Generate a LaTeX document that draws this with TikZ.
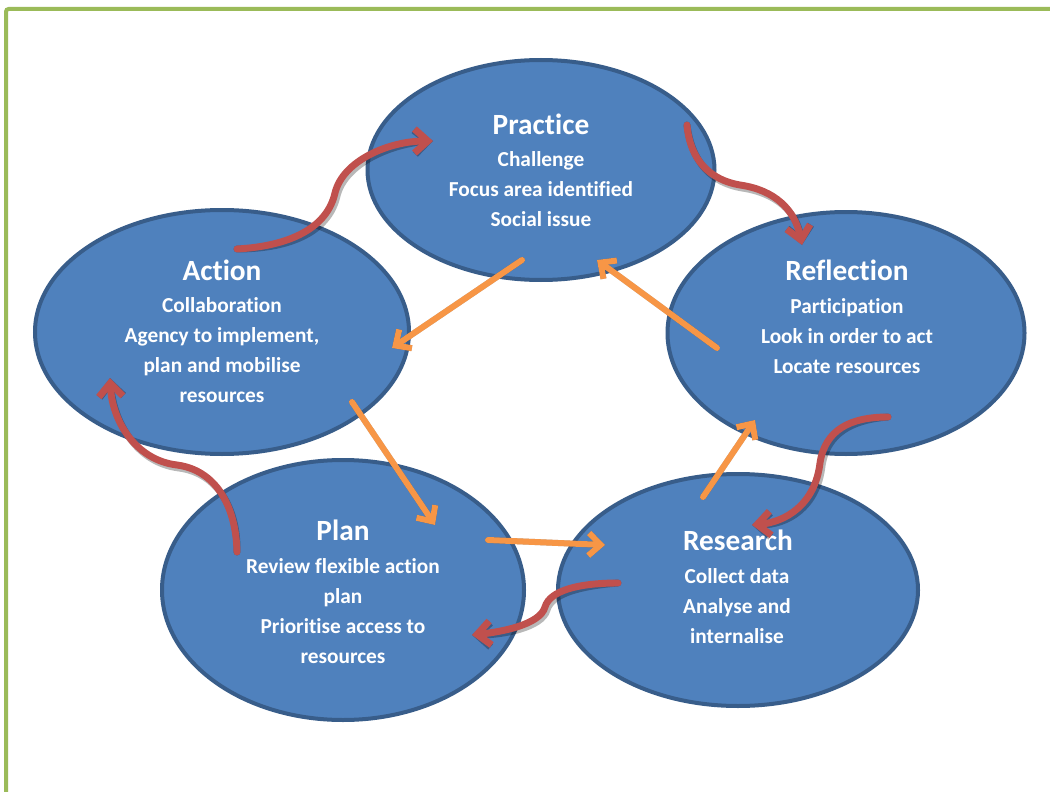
\documentclass[tikz,border=0pt]{standalone}
\usepackage{fontspec}
\setmainfont{Carlito}[Ligatures={NoCommon,NoContextual,NoRequired}]
\usetikzlibrary{shapes.geometric,arrows.meta}
\definecolor{blobfill}{HTML}{4F81BD}
\definecolor{blobline}{HTML}{385D8A}
\definecolor{redarr}{HTML}{C0504D}
\definecolor{orgarr}{HTML}{F79646}
\definecolor{framegreen}{HTML}{9BBB59}
\tikzset{
  blob/.style={ellipse, draw=blobline, fill=blobfill, line width=3pt, inner sep=0pt},
  title/.style={text=white, font=\fontsize{22}{26}\selectfont\bfseries},
  body/.style={text=white, font=\fontsize{16}{22.5}\selectfont\bfseries, align=center},
  redline/.style={draw=redarr, line width=5.2pt, line cap=round, -{Straight Barb[length=10pt,width=18pt]}},
  redshadow/.style={redline, draw=black, opacity=0.28, shift={(2,3)}},
  orgline/.style={draw=orgarr, line width=4.5pt, line cap=round, -{Straight Barb[length=9pt,width=17pt]}},
  orgshadow/.style={orgline, draw=black, opacity=0.28, shift={(2,3)}},
}
\begin{document}
\begin{tikzpicture}[x=0.75pt,y=-0.75pt]
\useasboundingbox (0,0) rectangle (1050,792);
\fill[white] (0,0) rectangle (1050,792);
% frame
\draw[framegreen, line width=3pt, rounded corners=2pt] (6,792) -- (6,9) -- (1050,9);

% ellipses
\node[blob, minimum width=260.25pt, minimum height=165pt] (prac) at (541,170) {};
\node[blob, minimum width=280.5pt, minimum height=183pt] (act) at (222,332) {};
\node[blob, minimum width=267.75pt, minimum height=181.5pt] (refl) at (846,333) {};
\node[blob, minimum width=271.5pt, minimum height=195pt] (plan) at (343,590) {};
\node[blob, minimum width=270pt, minimum height=174pt] (res) at (738,590) {};

% texts
\node[title] (pract) at (541,124) {Practice};
\node[body] (pracb) at (541,189) {Challenge\\Focus area identified\\Social issue};
\node[title] (actt) at (222,270) {Action};
\node[body] (actb) at (222,350) {Collaboration\\Agency to implement,\\plan and mobilise\\resources};
\node[title] (reflt) at (847,270) {Reflection};
\node[body] (reflb) at (847,336) {Participation\\Look in order to act\\Locate resources};
\node[title] (plant) at (343,530) {Plan};
\node[body] (planb) at (343,611) {Review flexible action\\plan\\Prioritise access to\\resources};
\node[title] (rest) at (738,540) {Research};
\node[body] (resb) at (737,606) {Collect data\\Analyse and\\internalise};

% connector end points
\coordinate (r1s) at (237,249); \coordinate (r1e) at (433,141);
\coordinate (r2s) at (687,125); \coordinate (r2e) at (802,245);
\coordinate (r3s) at (888,417); \coordinate (r3e) at (752,525);
\coordinate (r4s) at (618,583); \coordinate (r4e) at (472,635);
\coordinate (r5s) at (237,552); \coordinate (r5e) at (110,378);
\coordinate (o1s) at (522,260); \coordinate (o1e) at (392,348);
\coordinate (o2s) at (717,348); \coordinate (o2e) at (597,260);
\coordinate (o3s) at (352,402); \coordinate (o3e) at (435,525);
\coordinate (o4s) at (488,540); \coordinate (o4e) at (605,545);
\coordinate (o5s) at (703,497); \coordinate (o5e) at (755,420);

% orange arrows
\foreach \st in {orgshadow, orgline}{
  \draw[\st] (o1s) -- (o1e);
  \draw[\st] (o2s) -- (o2e);
  \draw[\st] (o3s) -- (o3e);
  \draw[\st] (o4s) -- (o4e);
  \draw[\st] (o5s) -- (o5e);
}
% red curved arrows
\foreach \st in {redshadow, redline}{
  \draw[\st] (r1s) .. controls (290,246) and (327,228) .. (335,193) .. controls (343,160) and (390,141) .. (r1e);
  \draw[\st] (r2s) .. controls (690,160) and (710,180) .. (740,185) .. controls (775,190) and (795,210) .. (r2e);
  \draw[\st] (r3s) .. controls (850,417) and (825,430) .. (820,463) .. controls (815,505) and (785,522) .. (r3e);
  \draw[\st] (r4s) .. controls (580,583) and (550,590) .. (545,607) .. controls (540,625) and (500,632) .. (r4e);
  \draw[\st] (r5s) .. controls (236,505) and (215,470) .. (177,465) .. controls (135,460) and (112,420) .. (r5e);
}
\end{tikzpicture}
\end{document}
